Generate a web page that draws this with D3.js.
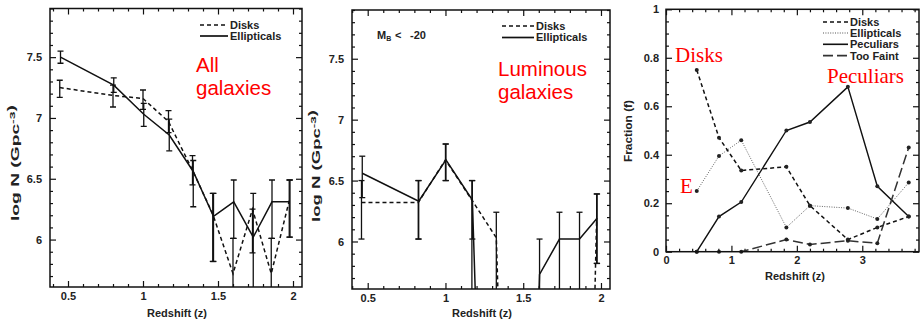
<!DOCTYPE html>
<html>
<head>
<meta charset="utf-8">
<script src="https://cdn.jsdelivr.net/npm/d3@7/dist/d3.min.js"></script>
<style>
  body { margin: 0; background: #fff; }
  svg { display: block; }
  text { font-family: "Liberation Sans", Arial, sans-serif; }
  .tick text { font-size: 11px; font-weight: bold; fill: #222; }
  .lbl { font-size: 11px; font-weight: bold; fill: #222; }
  .red { fill: #f00; font-size: 20.5px; }
  .redserif { fill: #f00; font-size: 21px; font-family: "Liberation Serif", "Times New Roman", serif; }
</style>
</head>
<body>
<svg id="chart" width="920" height="326"></svg>
<script>
// a bin with no galaxies: log N falls off the bottom of the axis
const EMPTY = 0;

// --- panel 1: all galaxies, log N vs redshift ---
const allDiskZ = [0.445, 0.80, 1.00, 1.17, 1.33, 1.465, 1.60, 1.73, 1.855, 1.975];
const allDisk = [7.25, 7.185, 7.16, 6.97, 6.57, 6.21, 5.72, 6.25, 5.72, 6.32];
const allDiskLo = [7.17, 7.09, 7.07, 6.88, 6.45, 5.82, EMPTY, 5.89, EMPTY, 6.02];
const allDiskHi = [7.31, 7.27, 7.23, 7.06, 6.69, 6.38, 6.01, 6.25, 6.01, 6.49];
const allEllZ = [0.45, 0.805, 1.005, 1.175, 1.335, 1.47, 1.605, 1.735, 1.86, 1.98];
const allEll = [7.50, 7.27, 7.03, 6.86, 6.56, 6.19, 6.31, 6.02, 6.31, 6.31];
const allEllLo = [7.45, 7.21, 6.93, 6.73, 6.27, 5.82, 6.01, EMPTY, 6.01, 6.02];
const allEllHi = [7.55, 7.33, 7.12, 6.99, 6.65, 6.38, 6.49, 6.38, 6.49, 6.49];

// --- panel 2: luminous galaxies (M_B < -20) ---
const lumDiskZ = [0.46, 0.825, 1.00, 1.17, 1.327, 1.47, 1.60, 1.73, 1.86, 1.972];
const lumDisk = [6.32, 6.32, 6.67, 6.34, 6.03, EMPTY, EMPTY, EMPTY, EMPTY, 6.19];
const lumDiskLo = [6.02, 6.02, 6.50, EMPTY, EMPTY, null, null, null, null, 5.82];
const lumDiskHi = [6.50, 6.50, 6.80, 6.50, 6.24, null, null, null, null, 6.39];
const lumEllZ = [0.465, 0.828, 1.003, 1.173, 1.33, 1.47, 1.605, 1.733, 1.862, 1.975];
const lumEll = [6.56, 6.33, 6.67, 6.34, EMPTY, EMPTY, 5.73, 6.02, 6.02, 6.19];
const lumEllLo = [6.36, 6.02, 6.50, 6.02, null, null, EMPTY, EMPTY, EMPTY, 5.82];
const lumEllHi = [6.70, 6.50, 6.80, 6.50, null, null, 6.02, 6.24, 6.24, 6.39];

// --- panel 3: morphological fractions ---
const fracZ = [0.47, 0.81, 1.15, 1.84, 2.20, 2.78, 3.23, 3.71];
const fracDisks = [0.75, 0.47, 0.335, 0.35, 0.19, 0.05, 0.10, 0.145];
const fracEllipticals = [0.25, 0.395, 0.46, 0.10, 0.19, 0.18, 0.135, 0.285];
const fracPeculiars = [0, 0.145, 0.205, 0.50, 0.535, 0.68, 0.27, 0.145];
const fracTooFaint = [0, 0, 0, 0.05, 0.03, 0.045, 0.035, 0.43];

// tick labels
const logNTicks = [6, 6.5, 7, 7.5];
const zTicks = [0.5, 1, 1.5, 2];
const fracTicks = [0, 0.2, 0.4, 0.6, 0.8, 1];
const fracZTicks = [0, 1, 2, 3];

const ink = '#111';
const styles = {
  disk: { dash: '4,3', width: 1.5, color: ink },
  ell: { dash: null, width: 1.5, color: ink },
  dotted: { dash: '1,1.4', width: 0.9, color: '#555' },
  pec: { dash: null, width: 1.4, color: ink },
  faint: { dash: '10,4', width: 1.5, color: '#333' }
};

const svg = d3.select('#chart');

function minorTicks(domain, step, majors) {
  const lo = Math.ceil(domain[0] / step - 1e-6), hi = Math.floor(domain[1] / step + 1e-6);
  return d3.range(lo, hi + 1).map(k => +(k * step).toFixed(4))
    .filter(v => !majors.some(m => Math.abs(m - v) < 1e-6));
}

function drawFrame(g, x, y, o) {
  const [xl, xr] = x.range(), [yb, yt] = y.range();
  const noDomain = s => s.select('.domain').remove();
  const xMinor = minorTicks(x.domain(), o.xMinor, o.xMajor);
  const yMinor = minorTicks(y.domain(), o.yMinor, o.yMajor);
  [[d3.axisBottom, yb], [d3.axisTop, yt]].forEach(([ax, pos], i) => {
    g.append('g').attr('transform', `translate(0,${pos})`)
      .call(ax(x).tickValues(o.xMajor).tickSize(-6).tickPadding(5)
        .tickFormat(i === 0 ? o.xFmt : ''))
      .call(noDomain);
    g.append('g').attr('transform', `translate(0,${pos})`)
      .call(ax(x).tickValues(xMinor).tickSize(-3).tickFormat(''))
      .call(noDomain);
  });
  [[d3.axisLeft, xl], [d3.axisRight, xr]].forEach(([ax, pos], i) => {
    g.append('g').attr('transform', `translate(${pos},0)`)
      .call(ax(y).tickValues(o.yMajor).tickSize(-6).tickPadding(o.yPad)
        .tickFormat(i === 0 ? o.yFmt : ''))
      .call(noDomain);
    g.append('g').attr('transform', `translate(${pos},0)`)
      .call(ax(y).tickValues(yMinor).tickSize(-3).tickFormat(''))
      .call(noDomain);
  });
  g.selectAll('.tick line').attr('stroke', ink).attr('stroke-width', 1.2);
}

function drawBox(g, x, y) {
  const [xl, xr] = x.range(), [yb, yt] = y.range();
  g.append('rect').attr('x', xl).attr('y', yt).attr('width', xr - xl).attr('height', yb - yt)
    .attr('fill', 'none').attr('stroke', ink).attr('stroke-width', 1.5);
}

function clipFor(g, id, x, y) {
  const [xl, xr] = x.range(), [yb, yt] = y.range();
  g.append('clipPath').attr('id', id).append('rect')
    .attr('x', xl).attr('y', yt).attr('width', xr - xl).attr('height', yb - yt);
  return g.append('g').attr('clip-path', `url(#${id})`);
}

function drawLine(g, x, y, zs, vals, st) {
  const line = d3.line().x((d, i) => x(zs[i])).y(d => y(d));
  g.append('path').datum(vals).attr('d', line)
    .attr('fill', 'none').attr('stroke', st.color).attr('stroke-width', st.width)
    .attr('stroke-dasharray', st.dash);
}

function drawErrors(g, x, y, zs, lo, hi) {
  const pts = zs.map((z, i) => ({ z, lo: lo[i], hi: hi[i] })).filter(d => d.lo !== null && d.hi !== null);
  const eb = g.append('g').attr('stroke', ink).attr('stroke-width', 1.3);
  eb.selectAll('line.v').data(pts).join('line').attr('class', 'v')
    .attr('x1', d => x(d.z)).attr('x2', d => x(d.z))
    .attr('y1', d => y(d.lo)).attr('y2', d => y(d.hi));
  const caps = pts.flatMap(d => [{ z: d.z, v: d.lo }, { z: d.z, v: d.hi }]);
  eb.selectAll('line.c').data(caps).join('line').attr('class', 'c')
    .attr('x1', d => x(d.z) - 3).attr('x2', d => x(d.z) + 3)
    .attr('y1', d => y(d.v)).attr('y2', d => y(d.v));
}

function drawLegend(g, x0, x1, rows) {
  rows.forEach(r => {
    g.append('line').attr('x1', x0).attr('x2', x1).attr('y1', r.y).attr('y2', r.y)
      .attr('stroke', r.st.color).attr('stroke-width', r.st.width + 0.2)
      .attr('stroke-dasharray', r.st.dash);
    g.append('text').attr('class', 'lbl').attr('x', x1 + 2).attr('y', r.y).attr('dy', '0.36em')
      .text(r.label);
  });
}

function yTitle(g, cx, cy, len, parts) {
  const t = g.append('text').attr('class', 'lbl')
    .attr('transform', `translate(${cx},${cy}) rotate(-90)`)
    .attr('text-anchor', 'middle').attr('dy', '0.35em')
    .attr('textLength', len).attr('lengthAdjust', 'spacingAndGlyphs');
  parts.forEach(p => {
    const s = t.append('tspan').text(p.t);
    if (p.sup) s.attr('font-size', '8px').attr('dy', '-4');
  });
}

function logNPanel(id, xr, yr, xdom, disk, ell, legendX, legendY, redLines, redPos) {
  const g = svg.append('g');
  const x = d3.scaleLinear().domain(xdom).range(xr);
  const y = d3.scaleLinear().domain([5.61, 7.9]).range(yr);
  drawFrame(g, x, y, {
    xMajor: zTicks, xMinor: 0.1, xFmt: d3.format('~g'),
    yMajor: logNTicks, yMinor: 0.1, yFmt: d3.format('~g'), yPad: 8
  });
  const c = clipFor(g, id, x, y);
  drawErrors(c, x, y, disk.z, disk.lo, disk.hi);
  drawErrors(c, x, y, ell.z, ell.lo, ell.hi);
  drawLine(c, x, y, disk.z, disk.v, styles.disk);
  drawLine(c, x, y, ell.z, ell.v, styles.ell);
  drawBox(g, x, y);
  drawLegend(g, legendX[0], legendX[1], [
    { y: legendY[0], st: styles.disk, label: 'Disks' },
    { y: legendY[1], st: styles.ell, label: 'Ellipticals' }
  ]);
  redLines.forEach((s, i) => {
    g.append('text').attr('class', 'red').attr('x', redPos[0]).attr('y', redPos[1] + i * 23).text(s);
  });
  g.append('text').attr('class', 'lbl').attr('x', (xr[0] + xr[1]) / 2 + 1).attr('y', 317)
    .attr('text-anchor', 'middle').text('Redshift (z)');
  return g;
}

// panel 1
const p1 = logNPanel('clip1', [50, 302], [287, 8.5], [0.38, 2.06],
  { z: allDiskZ, v: allDisk, lo: allDiskLo, hi: allDiskHi },
  { z: allEllZ, v: allEll, lo: allEllLo, hi: allEllHi },
  [200, 228], [25, 36], ['All', 'galaxies'], [196, 72]);
yTitle(p1, 15, 163, 116, [{ t: 'log N (Gpc' }, { t: '-3', sup: true }, { t: ')' }]);

// panel 2
const p2 = logNPanel('clip2', [352, 610], [289, 10], [0.399, 2.058],
  { z: lumDiskZ, v: lumDisk, lo: lumDiskLo, hi: lumDiskHi },
  { z: lumEllZ, v: lumEll, lo: lumEllLo, hi: lumEllHi },
  [502, 534], [26, 37.5], ['Luminous', 'galaxies'], [498, 76]);
yTitle(p2, 316, 166, 112, [{ t: 'log N (Gpc' }, { t: '-3', sup: true }, { t: ')' }]);
const mb = p2.append('text').attr('class', 'lbl').attr('y', 39);
mb.append('tspan').attr('x', 377).text('M');
mb.append('tspan').attr('font-size', '7px').attr('dy', 2).text('B');
mb.append('tspan').attr('x', 395).attr('dy', -2).text('<');
mb.append('tspan').attr('x', 410).text('-20');

// panel 3
{
  const g = svg.append('g');
  const x = d3.scaleLinear().domain([0, 3.867]).range([666, 919]);
  const y = d3.scaleLinear().domain([0, 1]).range([251.7, 9.3]);
  drawFrame(g, x, y, {
    xMajor: fracZTicks, xMinor: 0.2, xFmt: d3.format('~g'),
    yMajor: fracTicks, yMinor: 0.05, yFmt: d3.format('~g'), yPad: 7
  });
  const c = clipFor(g, 'clip3', x, y);
  const sets = [
    [fracDisks, styles.disk], [fracEllipticals, styles.dotted],
    [fracPeculiars, styles.pec], [fracTooFaint, styles.faint]
  ];
  sets.forEach(([vals, st]) => drawLine(c, x, y, fracZ, vals, st));
  sets.forEach(([vals]) => {
    g.append('g').selectAll('circle').data(vals).join('circle')
      .attr('cx', (d, i) => x(fracZ[i])).attr('cy', d => y(d)).attr('r', 2)
      .attr('fill', '#222');
  });
  drawBox(g, x, y);
  drawLegend(g, 823, 848, [
    { y: 22, st: styles.disk, label: 'Disks' },
    { y: 33, st: styles.dotted, label: 'Ellipticals' },
    { y: 44.3, st: styles.pec, label: 'Peculiars' },
    { y: 55.7, st: styles.faint, label: 'Too Faint' }
  ]);
  g.append('text').attr('class', 'redserif').attr('x', 675).attr('y', 62).text('Disks');
  g.append('text').attr('class', 'redserif').attr('x', 827).attr('y', 83).text('Peculiars');
  g.append('text').attr('class', 'redserif').attr('x', 680).attr('y', 193).text('E');
  g.append('text').attr('class', 'lbl').attr('x', 795).attr('y', 280)
    .attr('text-anchor', 'middle').text('Redshift (z)');
  yTitle(g, 628, 131, 62, [{ t: 'Fraction (f)' }]);
}
</script>
</body>
</html>
